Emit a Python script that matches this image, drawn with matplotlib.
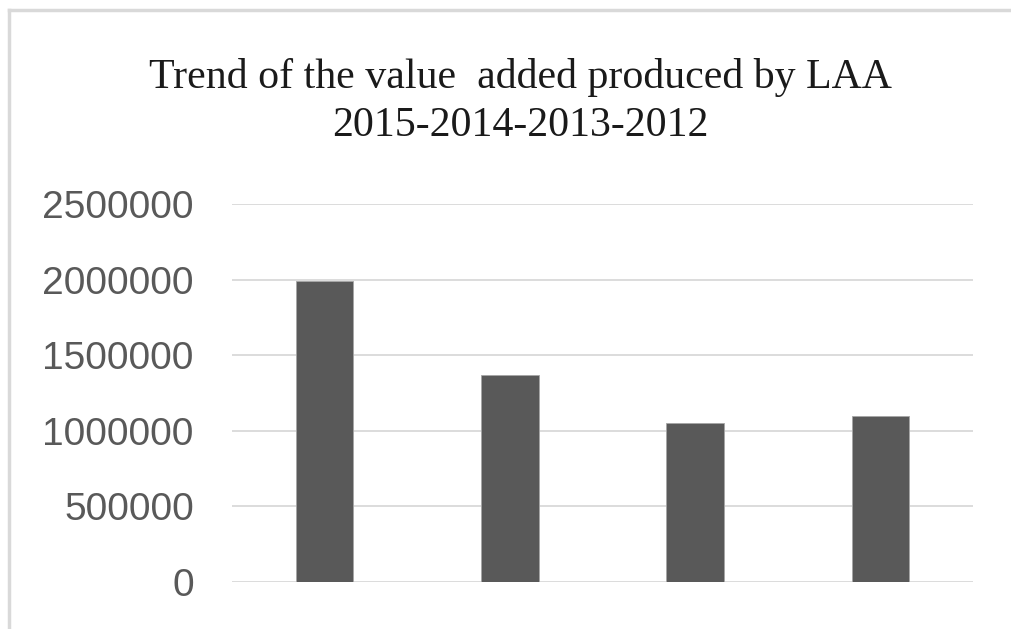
import matplotlib.pyplot as plt
from matplotlib.lines import Line2D
import numpy as np

# Valores
anos = ["2015", "2014", "2013", "2012"]
valor_agregado = [1990000, 1370000, 1050000, 1097000]
ticks_y = [0, 500000, 1000000, 1500000, 2000000, 2500000]

fig = plt.figure(figsize=(10.12, 6.29), dpi=100)
ax = fig.add_axes([232 / 1012, 1 - 582 / 629, 741 / 1012, 378 / 629])

x = np.arange(len(anos))
ax.bar(x, valor_agregado, width=0.31, color="#595959", edgecolor="#a6a6a6",
       linewidth=0.6, zorder=3)

# Eixos e grade
ax.set_xlim(-0.5, len(anos) - 0.5)
ax.set_ylim(0, 2500000)
ax.set_yticks(ticks_y)
ax.set_yticklabels([str(t) for t in ticks_y], family="Liberation Sans",
                   fontsize=28, color="#595959")
ax.set_xticks([])
ax.tick_params(axis="y", length=0, pad=27.5)
ax.grid(axis="y", color="#d9d9d9", linewidth=1.3, zorder=0)
for s in ax.spines.values():
    s.set_visible(False)

# Título
fig.text(0.514, 1 - 88 / 629, "Trend of the value  added produced by LAA",
         family="Liberation Serif", fontsize=30.2, color="#1a1a1a",
         ha="center", va="baseline")
fig.text(0.514, 1 - 136 / 629, "2015-2014-2013-2012",
         family="Liberation Serif", fontsize=30.2, color="#1a1a1a",
         ha="center", va="baseline")

# Moldura da figura (borda cinza à esquerda e no topo)
fig.add_artist(Line2D([9.5 / 1012, 9.5 / 1012], [0, 1 - 9.5 / 629],
                      transform=fig.transFigure, color="#d9d9d9", linewidth=2.5))
fig.add_artist(Line2D([9.5 / 1012, 1], [1 - 9.5 / 629, 1 - 9.5 / 629],
                      transform=fig.transFigure, color="#d9d9d9", linewidth=2.5))

plt.savefig("out.png", dpi=100)
